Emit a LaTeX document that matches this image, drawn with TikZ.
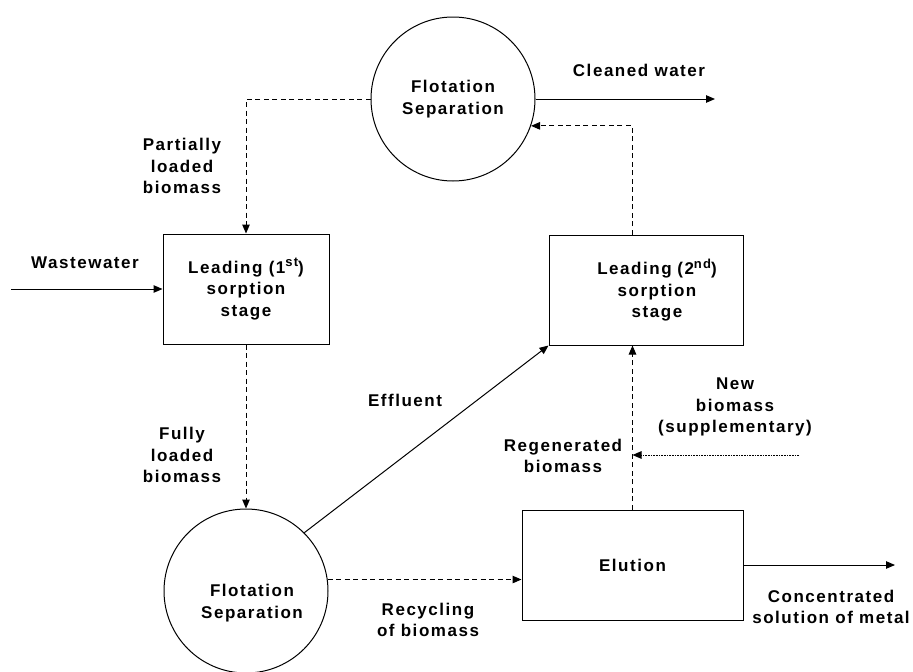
\documentclass[tikz,border=0pt]{standalone}
\usepackage{fontspec}
\setmainfont{Liberation Sans}[LetterSpace=9]
\usepackage{tikz}
\usetikzlibrary{shapes.geometric, arrows.meta, positioning, calc}
\definecolor{ink}{HTML}{000000}
\newcommand{\ordsup}[1]{\raisebox{6.5pt}{\fontsize{13}{13}\selectfont #1}}
\tikzset{
  stagebox/.style={
    rectangle, draw=ink, line width=1pt,
    minimum height=110pt, align=center,
    font=\fontsize{17}{21.5}\selectfont\bfseries,
  },
  separator/.style={
    circle, draw=ink, line width=1pt,
    minimum size=164pt, inner sep=0pt, align=center,
    font=\fontsize{17}{21.5}\selectfont\bfseries,
  },
  tag/.style={align=center, font=\fontsize{17}{21.5}\selectfont\bfseries},
  flow/.style={-{Triangle[length=9pt,width=7.5pt]}, line width=1pt, color=ink},
  dashflow/.style={flow, dash pattern=on 5pt off 3.5pt},
  dotflow/.style={flow, dash pattern=on 0.8pt off 0.8pt},
}
\begin{document}
\begin{tikzpicture}[x=1pt, y=-1pt]
  \useasboundingbox (0,0) rectangle (913,672);

  \node[separator] (topsep) at (453,99) {Flotation\\Separation};
  \node[stagebox, minimum width=166pt] (lead1) at (246,289) {Leading (1\ordsup{st})\\sorption\\stage};
  \node[stagebox, minimum width=194pt, text width=170pt] (lead2) at (646,290) {\hspace*{22pt}Leading (2\ordsup{nd})\\\hspace*{22pt}sorption\\\hspace*{22pt}stage};
  \node[separator, label={[tag, yshift=-12pt, xshift=6pt]center:{Flotation\\Separation}}] (botsep) at (246,591) {};
  \node[stagebox, minimum width=221pt] (elu) at (632.5,565) {Elution};

  \coordinate (wwin) at (11,289);
  \coordinate (cleanout) at (715,99);
  \coordinate (concout) at (895,565);
  \coordinate (newin) at (799,455);

  \draw[flow] (wwin) -- (lead1.west);
  \draw[flow] (topsep.east) -- (cleanout);
  \draw[dashflow] (topsep.west) -| (lead1.north);
  \draw[dashflow] (lead1.south) -- (botsep.north);
  \draw[flow] (botsep.45) -- (lead2.south west);
  \draw[dashflow] (botsep.8) -- (botsep.8 -| elu.west);
  \draw[flow] (elu.east) -- (concout);
  \draw[dashflow] (elu.north) -- (elu.north |- lead2.south);
  \draw[dotflow] (newin) -- (newin -| elu.north);
  \draw[dashflow] (elu.north |- lead2.north) |- (topsep.-19);

  % labels
  \node[tag] (lbclean) at (639,70) {Cleaned water};
  \node[tag] (lbpart) at (182,166) {Partially\\loaded\\biomass};
  \node[tag] (lbww) at (85,263) {Wastewater};
  \node[tag] (lbfully) at (182,455) {Fully\\loaded\\biomass};
  \node[tag] (lbeff) at (405,400) {Effluent};
  \node[tag] (lbrecyc) at (428,620) {Recycling\\of biomass};
  \node[tag] (lbconc) at (831,607) {Concentrated\\solution of metal};
  \node[tag] (lbnew) at (735,407) {New\\biomass\\(supplementary)};
  \node[tag] (lbregen) at (563,456) {Regenerated\\biomass};

\end{tikzpicture}
\end{document}
